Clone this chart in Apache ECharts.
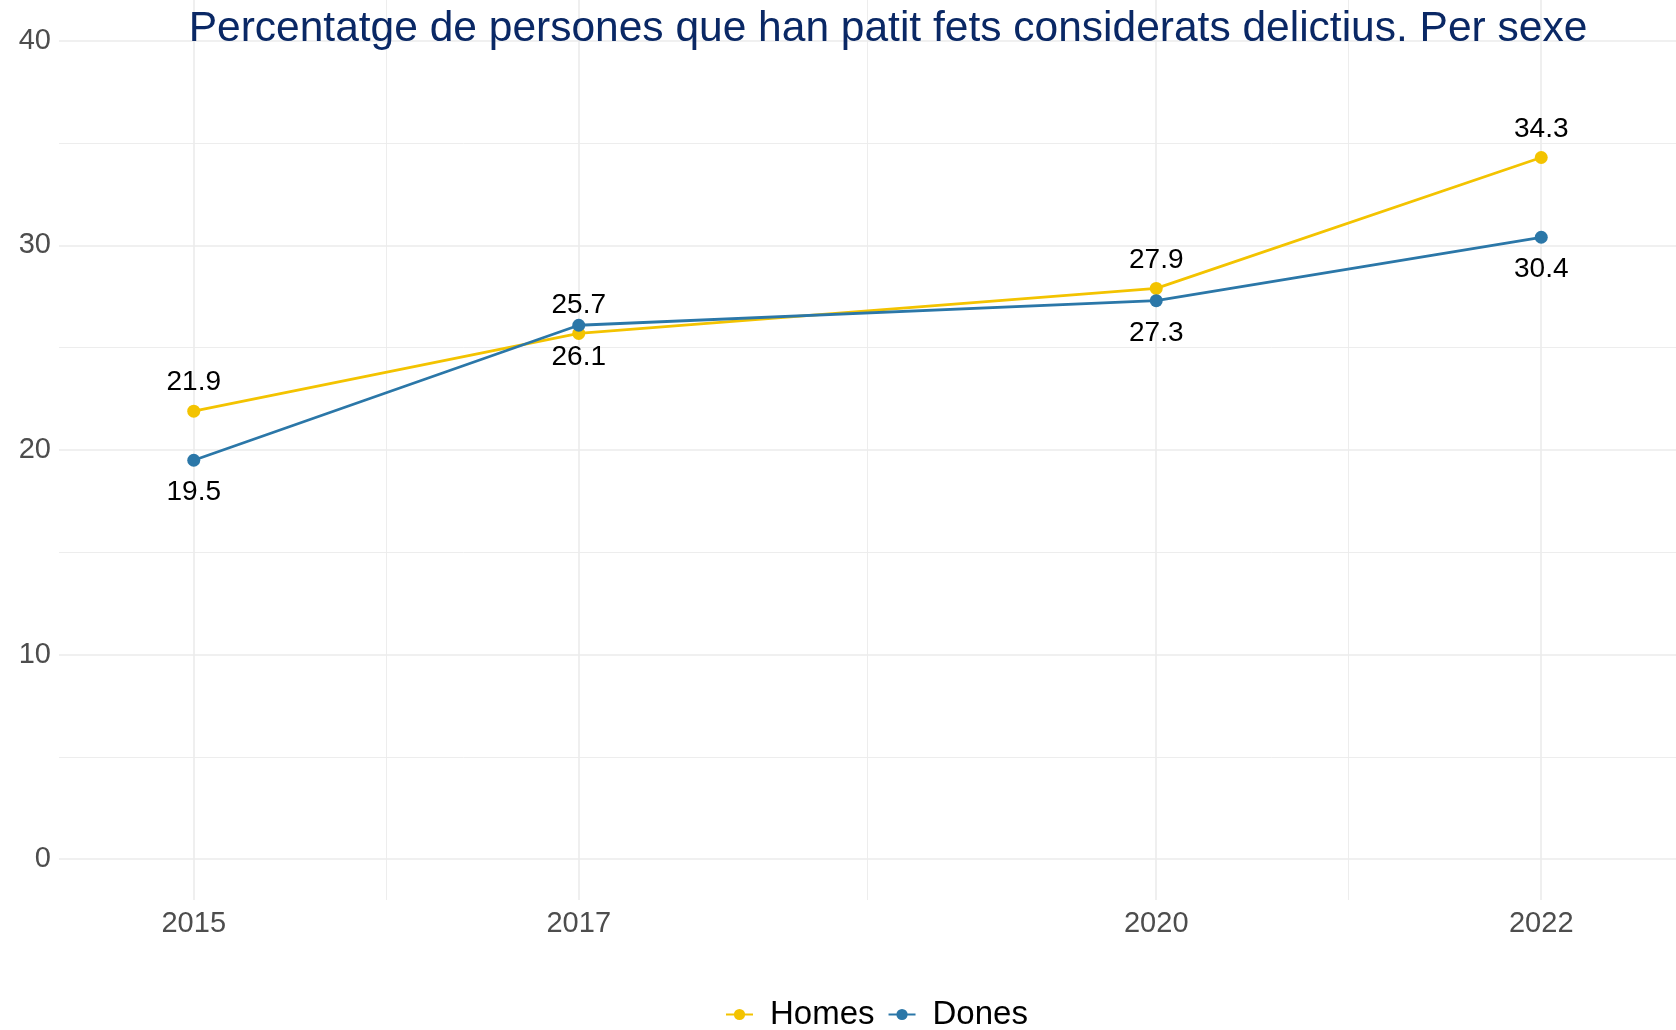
<!DOCTYPE html>
<html>
<head>
<meta charset="utf-8">
<script src="https://cdn.jsdelivr.net/npm/echarts@6/dist/echarts.min.js"></script>
<style>
  html, body { margin: 0; padding: 0; background: #fff; }
  #chart { width: 1676px; height: 1030px; }
</style>
</head>
<body>
<div id="chart"></div>
<script>
const years = [2015, 2017, 2020, 2022]
const homes = [21.9, 25.7, 27.9, 34.3]
const dones = [19.5, 26.1, 27.3, 30.4]
const yTicks = [0, 10, 20, 30, 40]
const yMinor = [5, 15, 25, 35]
const xMinor = [2016, 2018.5, 2021]

const font = 'Liberation Sans, Arial, sans-serif'
const gridColor = '#EBEBEB'

const el = document.getElementById('chart')
const myChart = echarts.init(el)

const toPairs = (vals) => years.map((y, i) => [y, vals[i]])

// ggplot-like major/minor grid, drawn under everything
const gridLines = [
  ...yTicks.map(v => ({ yAxis: v, lineStyle: { width: 1.6 } })),
  ...yMinor.map(v => ({ yAxis: v, lineStyle: { width: 0.9 } })),
  ...years.map(v => ({ xAxis: v, lineStyle: { width: 1.6 } })),
  ...xMinor.map(v => ({ xAxis: v, lineStyle: { width: 0.9 } })),
]

const dataLabel = {
  show: true,
  color: '#000',
  fontFamily: font,
  fontSize: 28,
  textBorderWidth: 0,
  formatter: p => p.value[1].toFixed(1),
}

const option = {
  animation: false,
  backgroundColor: '#FFFFFF',
  title: {
    text: 'Percentatge de persones que han patit fets considerats delictius. Per sexe',
    left: 888,
    top: 8,
    padding: 0,
    textAlign: 'center',
    textStyle: { color: '#0A2865', fontFamily: font, fontSize: 42.5, fontWeight: 'normal' },
  },
  legend: {
    data: ['Homes', 'Dones'],
    left: 725,
    top: 998,
    padding: 0,
    itemWidth: 27,
    itemHeight: 14,
    itemGap: 13,
    textStyle: { color: '#000', fontFamily: font, fontSize: 33, padding: [0, 0, 0, 12] },
  },
  grid: { left: 59, right: 0, top: -4, bottom: 130 },
  xAxis: {
    type: 'value',
    min: 2014.3,
    max: 2022.7,
    axisLine: { show: false },
    axisTick: { show: false },
    splitLine: { show: false },
    axisLabel: {
      customValues: years,
      color: '#4D4D4D',
      fontFamily: font,
      fontSize: 29,
      margin: 9,
      formatter: v => String(v),
    },
  },
  yAxis: {
    type: 'value',
    min: -2,
    max: 42,
    axisLine: { show: false },
    axisTick: { show: false },
    splitLine: { show: false },
    axisLabel: {
      customValues: yTicks,
      color: '#4D4D4D',
      fontFamily: font,
      fontSize: 29,
      margin: 8,
    },
  },
  series: [
    {
      name: 'grid',
      type: 'line',
      data: [],
      z: 0,
      silent: true,
      markLine: {
        z: 0,
        silent: true,
        symbol: 'none',
        label: { show: false },
        lineStyle: { color: gridColor, type: 'solid' },
        data: gridLines,
      },
    },
    {
      name: 'Homes',
      type: 'line',
      data: toPairs(homes),
      color: '#F3C300',
      symbol: 'circle',
      symbolSize: 13,
      lineStyle: { width: 2.8 },
      z: 3,
      label: { ...dataLabel, position: 'top', distance: 8 },
    },
    {
      name: 'Dones',
      type: 'line',
      data: toPairs(dones),
      color: '#2B77A8',
      symbol: 'circle',
      symbolSize: 13,
      lineStyle: { width: 2.8 },
      z: 4,
      label: { ...dataLabel, position: 'bottom', distance: 12 },
    },
  ],
}
myChart.setOption(option, true)
</script>
</body>
</html>
